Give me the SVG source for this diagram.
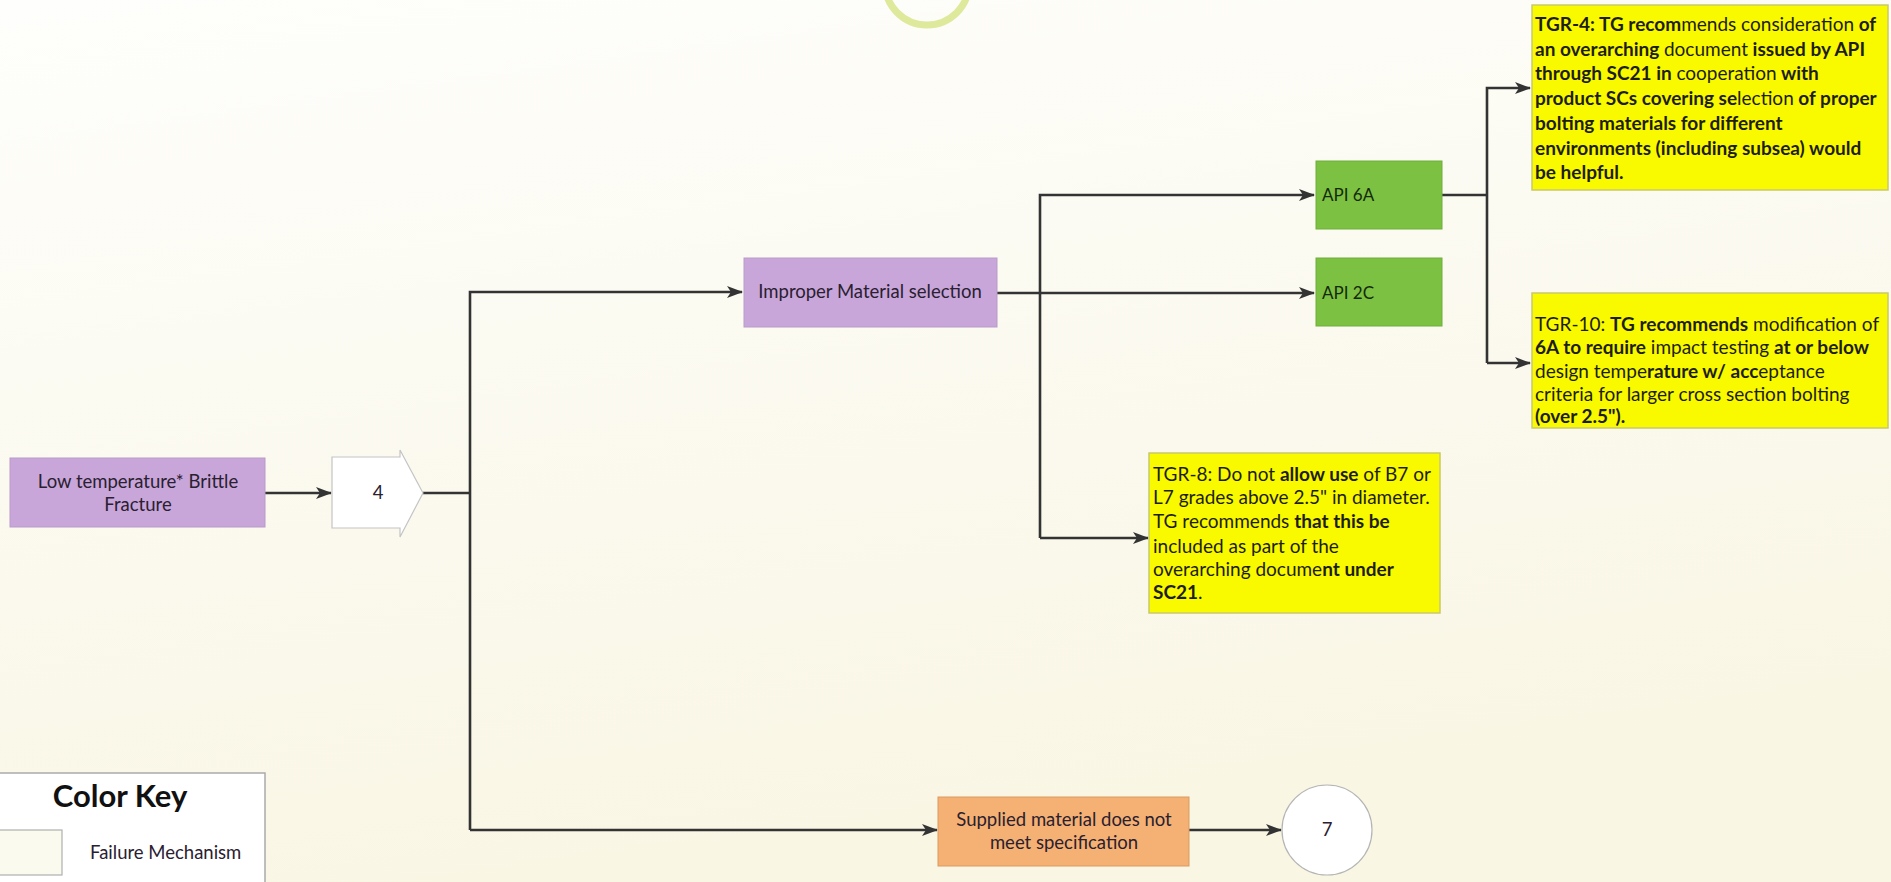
<svg xmlns="http://www.w3.org/2000/svg" width="1891" height="882" viewBox="0 0 1891 882">
<defs>
<linearGradient id="bg" x1="0" y1="0" x2="0.3" y2="1">
<stop offset="0" stop-color="#fefefc"/>
<stop offset="1" stop-color="#f9f6e4"/>
</linearGradient>
<marker id="ah" viewBox="0 0 16 12" refX="15" refY="6" markerWidth="16" markerHeight="12" markerUnits="userSpaceOnUse" orient="auto">
<path d="M0,0 L16,6 L0,12 L4,6 Z" fill="#333"/>
</marker>
<style>
.t{font-family:Lato,"Liberation Sans",sans-serif;font-size:18.5px;fill:#2a2030}
.tb{font-family:Lato,"Liberation Sans",sans-serif;font-size:19px;fill:#1e1e10}
.b{font-weight:700}
.n{font-weight:400}
.c{stroke:#333;stroke-width:2.6;fill:none}
.purple{fill:#c8a6da;stroke:#b79bc8;stroke-width:1}
.green{fill:#7cc142;stroke:#6fae3a;stroke-width:1}
.orange{fill:#f5b173;stroke:#d99a60;stroke-width:1}
.yellow{fill:#f9f900;stroke:#c9c96a;stroke-width:1.5}
</style>
</defs>
<rect x="0" y="0" width="1891" height="882" fill="url(#bg)"/>
<circle cx="927" cy="-17" r="42" fill="none" stroke="#dfe99c" stroke-width="7"/>

<g id="connectors">
<path class="c" d="M265,493 L331,493" marker-end="url(#ah)"/>
<path class="c" d="M423,493 L470,493"/>
<path class="c" d="M470,830 L470,292 L742,292" marker-end="url(#ah)"/>
<path class="c" d="M470,830 L937,830" marker-end="url(#ah)"/>
<path class="c" d="M997,293 L1314,293" marker-end="url(#ah)"/>
<path class="c" d="M1040,538 L1040,195 L1314,195" marker-end="url(#ah)"/>
<path class="c" d="M1040,538 L1148,538" marker-end="url(#ah)"/>
<path class="c" d="M1442,195 L1487,195"/>
<path class="c" d="M1487,363 L1487,88 L1530,88" marker-end="url(#ah)"/>
<path class="c" d="M1487,363 L1530,363" marker-end="url(#ah)"/>
<path class="c" d="M1189,830 L1281,830" marker-end="url(#ah)"/>
</g>

<g id="n-lowtemp">
<rect class="purple" x="10" y="458" width="255" height="69"/>
<text class="t" x="138" y="488" text-anchor="middle">Low temperature* Brittle</text>
<text class="t" x="138" y="511" text-anchor="middle">Fracture</text>
</g>

<g id="n-4">
<path d="M332,457 L400,457 L400,450 L423,493 L400,537 L400,528 L332,528 Z" fill="#ffffff" stroke="#c4c4c4" stroke-width="1.2"/>
<text class="t" x="378" y="499" text-anchor="middle">4</text>
</g>

<g id="n-improper">
<rect class="purple" x="744" y="258" width="253" height="69"/>
<text class="t" x="870" y="298" text-anchor="middle">Improper Material selection</text>
</g>

<g id="n-api6a">
<rect class="green" x="1316" y="161" width="126" height="68"/>
<text class="t" x="1322" y="201" style="fill:#142a0a;font-size:17px">API 6A</text>
</g>

<g id="n-api2c">
<rect class="green" x="1316" y="258" width="126" height="68"/>
<text class="t" x="1322" y="299" style="fill:#142a0a;font-size:17px">API 2C</text>
</g>

<g id="n-tgr4">
<rect class="yellow" x="1532" y="5" width="356" height="185"/>
<text class="tb b" x="1535" y="31">TGR-4: TG recom<tspan class="n">mends consideration</tspan> of</text>
<text class="tb b" x="1535" y="56">an overarching <tspan class="n">document</tspan> issued by API</text>
<text class="tb b" x="1535" y="80">through SC21 in <tspan class="n">cooperation</tspan> with</text>
<text class="tb b" x="1535" y="105">product SCs covering se<tspan class="n">lection</tspan> of proper</text>
<text class="tb b" x="1535" y="130">bolting materials for different</text>
<text class="tb b" x="1535" y="155">environments (including subsea) would</text>
<text class="tb b" x="1535" y="179">be helpful.</text>
</g>

<g id="n-tgr10">
<rect class="yellow" x="1532" y="293" width="356" height="135"/>
<text class="tb" x="1535" y="331">TGR-10: <tspan class="b">TG recommends</tspan> modification of</text>
<text class="tb" x="1535" y="354"><tspan class="b">6A to require</tspan> impact testing <tspan class="b">at or below</tspan></text>
<text class="tb" x="1535" y="378">design tempe<tspan class="b">rature w/ acc</tspan>eptance</text>
<text class="tb" x="1535" y="401">criteria for larger cross  section bolting</text>
<text class="tb" x="1535" y="423"><tspan class="b">(over 2.5").</tspan></text>
</g>

<g id="n-tgr8">
<rect class="yellow" x="1149" y="453" width="291" height="160"/>
<text class="tb" x="1153" y="481">TGR-8: Do not <tspan class="b">allow use</tspan> of B7 or</text>
<text class="tb" x="1153" y="504">L7 grades above 2.5" in diameter.</text>
<text class="tb" x="1153" y="528">TG recommends <tspan class="b">that this be</tspan></text>
<text class="tb" x="1153" y="553">included as part of the</text>
<text class="tb" x="1153" y="576">overarching docume<tspan class="b">nt under</tspan></text>
<text class="tb" x="1153" y="599"><tspan class="b">SC21</tspan>.</text>
</g>

<g id="n-supplied">
<rect class="orange" x="938" y="797" width="251" height="69"/>
<text class="t" x="1064" y="826" text-anchor="middle">Supplied material does not</text>
<text class="t" x="1064" y="849" text-anchor="middle">meet specification</text>
</g>

<g id="n-7">
<circle cx="1327" cy="830" r="45" fill="#ffffff" stroke="#b5b5b5" stroke-width="1.2"/>
<text class="t" x="1327" y="836" text-anchor="middle">7</text>
</g>

<g id="colorkey">
<rect x="-2" y="773" width="267" height="115" fill="#ffffff" stroke="#aaaaaa" stroke-width="1.5"/>
<text x="120" y="807" text-anchor="middle" style="font-family:Lato,'Liberation Sans',sans-serif;font-size:31px;font-weight:700;fill:#111">Color Key</text>
<rect x="-2" y="830" width="64" height="45" fill="#fbfaee" stroke="#b0b0b0" stroke-width="1.2"/>
<text class="t" x="90" y="859">Failure Mechanism</text>
</g>
</svg>
